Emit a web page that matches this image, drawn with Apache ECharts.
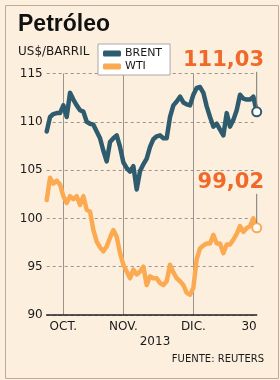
<!DOCTYPE html>
<html>
<head>
<meta charset="utf-8">
<script src="https://cdn.jsdelivr.net/npm/echarts@6/dist/echarts.min.js"></script>
<style>
html,body{margin:0;padding:0;background:#f7e9d8;}
#c{width:280px;height:380px;}
</style>
</head>
<body>
<div id="c"></div>
<script>
// ---- data ----
var brent = [109.0,110.5,110.8,110.9,110.9,111.7,110.5,113.0,112.3,111.7,111.2,111.05,110.0,109.8,109.7,109.0,108.3,107.0,105.9,107.9,108.3,108.6,107.4,105.8,105.2,104.85,105.4,103.0,104.9,105.6,106.2,107.4,108.2,108.5,108.6,108.3,108.3,110.5,111.7,112.1,112.6,112.0,111.8,111.7,112.8,113.5,113.6,113.0,111.6,110.5,109.5,109.8,109.2,108.6,110.9,109.5,110.2,111.2,112.8,112.4,112.3,112.3,112.6,111.03];
var wti = [101.9,104.2,103.6,103.9,103.5,102.3,101.6,102.3,102.0,102.3,101.4,102.3,100.9,100.7,98.8,97.6,97.0,96.6,97.1,98.0,98.8,98.1,96.4,95.2,94.5,93.8,94.7,94.2,94.5,95.0,93.1,94.0,93.8,93.8,93.3,93.1,93.5,95.2,94.4,93.8,93.5,93.1,92.3,92.1,92.8,95.8,96.9,97.2,97.4,97.4,98.3,97.4,97.4,96.4,97.3,97.3,97.8,98.4,99.2,98.6,99.0,99.2,100.0,99.02];
var seriesNames = ['BRENT','WTI'];
var tickLabels = ['OCT.','NOV.','DIC.','30'];
var tickIndex = [5,23,44,63];
var monthLineIndex = [5,23,44];
var yTicks = [90,95,100,105,110,115];

var colors = ['#2e5b6e','#fcaa52'];
var accent = '#f0692a';

var categories = brent.map(function(_, i){
  var k = tickIndex.indexOf(i);
  return k >= 0 ? tickLabels[k] : '';
});
var last = brent.length - 1;

function mkSeries(name, data, color){
  return {
    name: name, type: 'line', data: data,
    symbol: 'circle', showAllSymbol: true,
    symbolSize: function(v, p){ return p.dataIndex === last ? 9 : 0; },
    itemStyle: {color: '#ffffff', borderColor: color, borderWidth: 2},
    lineStyle: {color: color, width: 4.5, cap: 'round', join: 'round'},
    emphasis: {disabled: true},
    z: 3
  };
}

var chart = echarts.init(document.getElementById('c'), null, {renderer:'canvas'});
var F = 'DejaVu Sans, Verdana, sans-serif';
chart.setOption({
  backgroundColor: '#fcefde',
  animation: false,
  grid: {left: 46.7, right: 23.3, top: 73.5, bottom: 65, containLabel: false},
  xAxis: {
    type: 'category', data: categories, boundaryGap: false,
    axisLine: {show: true, lineStyle: {color: '#222', width: 1.5}},
    axisTick: {show: false},
    axisLabel: {interval: 0, color: '#1a1a1a', fontSize: 12, fontFamily: F, margin: 6, alignMaxLabel: 'right'},
    splitLine: {show: true, interval: function(i){ return monthLineIndex.indexOf(i) >= 0; },
      lineStyle: {color: '#9a948c', width: 1}}
  },
  yAxis: {
    type: 'value', min: yTicks[0], max: yTicks[yTicks.length-1], interval: 5,
    axisLine: {show: false}, axisTick: {show: false},
    axisLabel: {color: '#1a1a1a', fontSize: 12, fontFamily: F, margin: 4},
    splitLine: {show: true, lineStyle: {color: '#9a948c', width: 1, type: [3,3]}}
  },
  legend: {
    left: 98, top: 44, orient: 'vertical',
    backgroundColor: '#ffffff', borderColor: '#a9a9a9', borderWidth: 1,
    padding: [4, 8, 3, 5], itemGap: 2,
    itemWidth: 18, itemHeight: 6, icon: 'roundRect',
    textStyle: {fontSize: 11, fontFamily: F, color: '#1a1a1a', padding: [0,0,0,-1]},
    data: [
      {name: seriesNames[0], itemStyle: {color: colors[0], borderWidth: 0}},
      {name: seriesNames[1], itemStyle: {color: colors[1], borderWidth: 0}}
    ]
  },
  series: [mkSeries(seriesNames[0], brent, colors[0]), mkSeries(seriesNames[1], wti, colors[1])],
  graphic: []
});

function fmt(v){ return v.toFixed(2).replace('.', ','); }
var pB = chart.convertToPixel({seriesIndex:0}, [last, brent[last]]);
var pW = chart.convertToPixel({seriesIndex:1}, [last, wti[last]]);
var g = [
  {type:'rect', left: 3, top: 3, shape:{width: 273, height: 373}, style:{fill:'none', stroke:'#bcab99', lineWidth:1}, silent:true},
  {type:'text', left: 18, top: 13, style:{text:'Petróleo', font:'bold 23px "Liberation Sans", Arial, sans-serif', fill:'#111'}},
  {type:'text', left: 18, top: 46, style:{text:'US$/BARRIL', font:'12px ' + F, fill:'#1a1a1a'}},
  {type:'text', x: 155, y: 342, style:{text:'2013', font:'12px ' + F, fill:'#1a1a1a', align:'center', verticalAlign:'middle'}},
  {type:'text', x: 264, y: 359, style:{text:'FUENTE: REUTERS', font:'10px ' + F, fill:'#1a1a1a', align:'right', verticalAlign:'middle'}},
  // value call-outs
  {type:'text', x: 264, y: pB[1] - 51, style:{text: fmt(brent[last]), font:'bold 21px ' + F, fill: accent, align:'right', verticalAlign:'middle'}, z: 10},
  {type:'line', shape:{x1: pB[0], y1: pB[1] - 40, x2: pB[0], y2: pB[1] - 5}, style:{stroke:'#777', lineWidth:1}, z: 10},
  {type:'text', x: 264, y: pW[1] - 45, style:{text: fmt(wti[last]), font:'bold 21px ' + F, fill: accent, align:'right', verticalAlign:'middle'}, z: 10},
  {type:'line', shape:{x1: pW[0], y1: pW[1] - 34, x2: pW[0], y2: pW[1] - 5}, style:{stroke:'#777', lineWidth:1}, z: 10}
];
chart.setOption({graphic: g});
</script>
</body>
</html>
